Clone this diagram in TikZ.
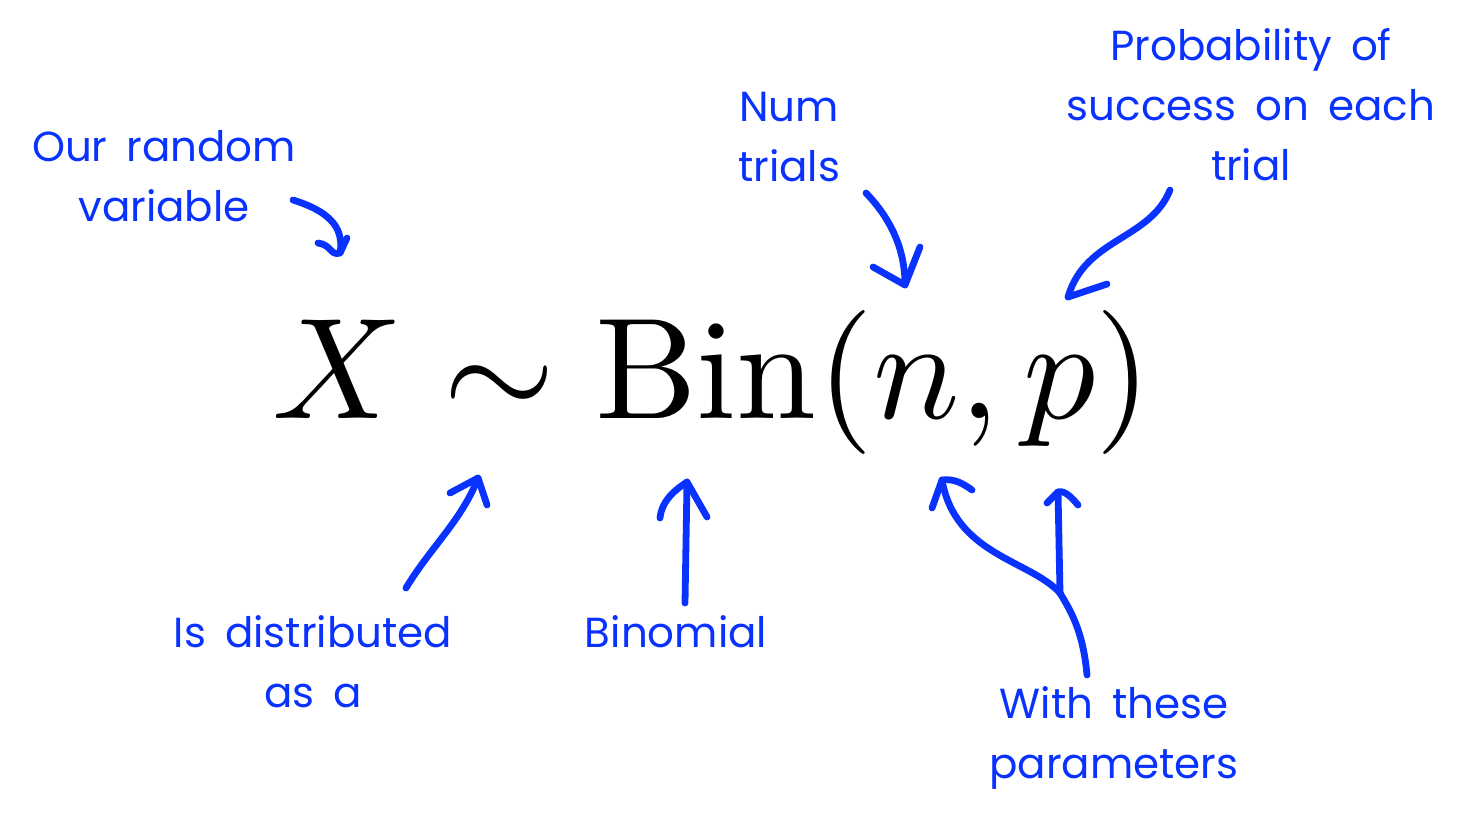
\documentclass[tikz,border=0pt]{standalone}
\usepackage{fontspec}
\newfontfamily\handfont{Poppins}
\newcommand\notefont{\handfont\fontsize{21}{30}\selectfont
  \spaceskip=0.45em plus 0.1em minus 0.05em\relax}
\usetikzlibrary{positioning}
\definecolor{penblue}{RGB}{10,50,255}

\begin{document}
\begin{tikzpicture}[
  x=0.5pt,y=-0.5pt,
  every node/.style={inner sep=0pt},
  note/.style={text=penblue,align=center,font=\notefont},
  pen/.style={draw=penblue,line width=3.4pt,line cap=round,line join=round},
]
\useasboundingbox (0,0) rectangle (1481,829);

%% ── The formula ─────────────────────────────────────────────
\node[anchor=base west] (formula) at (272,418)
  {\scalebox{7.2}{$X \sim \mathrm{Bin}(n,p)$}};

%% ── Annotations ─────────────────────────────────────────────
\node[note] (rv)     at (164,176) {Our random\\variable};
\node[note] (trials) at (789,137) {Num\\trials};
\node[note] (prob)   at (1251,105) {Probability of\\success on each\\trial};
\node[note] (dist)   at (313,662) {Is distributed\\as a};
\node[note] (binom)  at (676,632) {Binomial};
\node[note] (params) at (1114,738) {With these\\parameters};

%% ── Arrow tips and tails ────────────────────────────────────
\coordinate (rvS)   at (293,200);  \coordinate (rvT)   at (340,253);
\coordinate (nS)    at (866,193);  \coordinate (nT)    at (905,285);
\coordinate (pS)    at (1170,190); \coordinate (pT)    at (1068,297);
\coordinate (simS)  at (406,588);  \coordinate (simT)  at (478,478);
\coordinate (binS)  at (685,603);  \coordinate (binT)  at (687,482);
\coordinate (parS)  at (1087,675); \coordinate (fork)  at (1060,593);
\coordinate (parnT) at (942,480);  \coordinate (parpT) at (1058,492);

%% Our random variable -> X
\draw[pen] (rvS) .. controls (325,210) and (345,225) .. (rvT);
\draw[pen] (318,243) .. controls (332,245) and (330,256) .. (rvT) -- (347,238);

%% Num trials -> n
\draw[pen] (nS) .. controls (890,218) and (905,248) .. (nT);
\draw[pen] (873,267) -- (nT) -- (920,247);

%% Probability of success -> p
\draw[pen] (pS) .. controls (1150,240) and (1085,238) .. (pT);
\draw[pen] (pT) -- (1107,284);

%% Is distributed as a -> sim
\draw[pen] (simS) .. controls (430,548) and (462,520) .. (simT);
\draw[pen] (450,493) -- (simT) -- (487,505);

%% Binomial -> Bin
\draw[pen] (binS) -- (binT);
\draw[pen] (660,518) .. controls (662,500) and (675,490) .. (binT) -- (707,517);

%% With these parameters -> n and p
\draw[pen] (parS) .. controls (1083,630) and (1070,610) .. (fork);
\draw[pen] (fork) .. controls (1030,560) and (955,555) .. (parnT);
\draw[pen] (932,508) -- (parnT) .. controls (955,478) and (965,485) .. (972,490);
\draw[pen] (fork) -- (parpT);
\draw[pen] (1047,503) -- (parpT) .. controls (1065,490) and (1072,498) .. (1078,505);

\end{tikzpicture}
\end{document}
